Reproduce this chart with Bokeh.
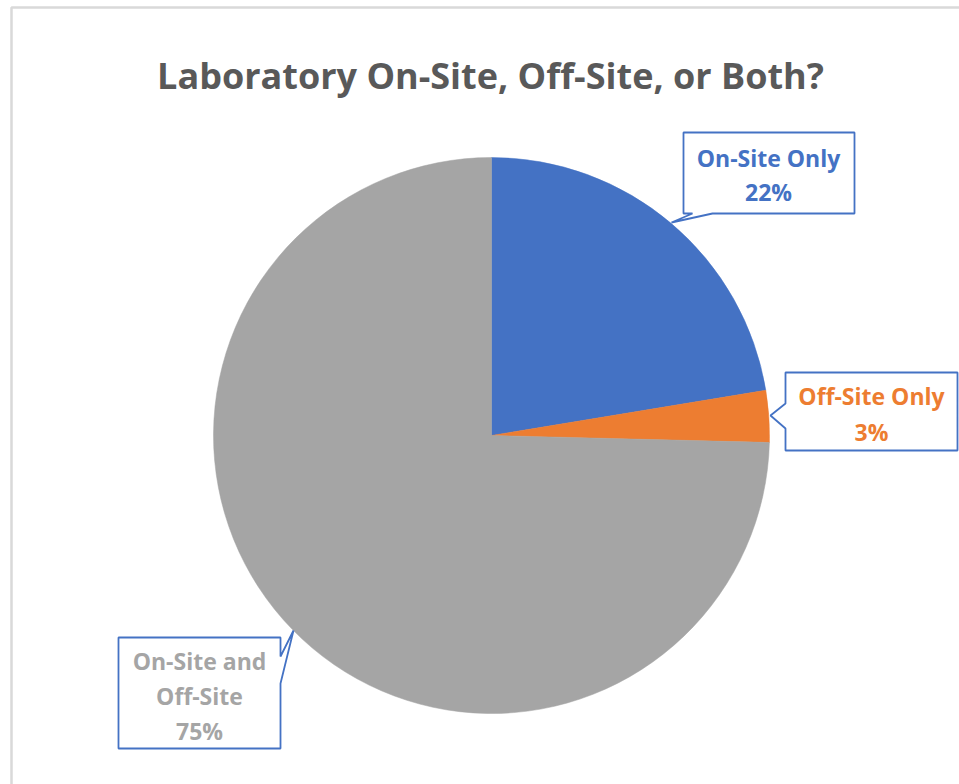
import math
from bokeh.plotting import figure
from bokeh.models import Range1d, ColumnDataSource
from bokeh.core.properties import value
from bokeh.embed import file_html
from bokeh.resources import INLINE

# ---- data ----
title_text = "Laboratory On-Site, Off-Site, or Both?"
categories = ["On-Site Only", "Off-Site Only", "On-Site and Off-Site"]
shares = [22.4, 3.0, 74.6]
label_lines = [["On-Site Only"], ["Off-Site Only"], ["On-Site and", "Off-Site"]]

# ---- style ----
slice_colors = ["#4472C4", "#ED7D31", "#A5A5A5"]
box_line = "#4472C4"
FONT = "Open Sans"

W, H = 959, 784
IMG_H = 784


def Y(y_img):
    return IMG_H - y_img


p = figure(width=W, height=H, output_backend="svg", toolbar_location=None,
           x_range=Range1d(0, W), y_range=Range1d(IMG_H - H, IMG_H),
           min_border=0, outline_line_color=None)
p.axis.visible = False
p.grid.visible = False
p.background_fill_color = "white"
p.border_fill_color = "white"

# chart area border (light gray)
p.line(x=[11, 11, 970], y=[Y(800), Y(7), Y(7)], line_color="#D9D9D9", line_width=2.5)

# title
p.text(x=[490], y=[Y(75)], text=[title_text], text_align="center", text_baseline="middle",
       text_font=value(FONT), text_font_style="bold", text_font_size="36px", text_color="#595959")

# pie
cx, cy, r = 491, Y(435), 278
total = sum(shares)
starts, ends = [], []
cum = 0.0
for s in shares:
    starts.append(math.pi / 2 - 2 * math.pi * cum / total)
    cum += s
    ends.append(math.pi / 2 - 2 * math.pi * cum / total)
src = ColumnDataSource(dict(x=[cx] * 3, y=[cy] * 3, start=starts, end=ends, color=slice_colors))
p.wedge(x="x", y="y", radius=r, radius_units="screen", start_angle="start", end_angle="end",
        direction="clock", fill_color="color", line_color="color", line_width=0.5, source=src)

# callouts: polygon with pointer, text centre and line positions
boxes = [
    dict(poly=[(683, 132), (854, 132), (854, 213), (712, 213), (671, 222), (692, 213), (683, 213)],
         cx=768, lines_y=[157, 191]),
    dict(poly=[(785, 372), (957, 372), (957, 450), (785, 450), (785, 428), (770, 415), (785, 403)],
         cx=871, lines_y=[395, 431]),
    dict(poly=[(118, 637), (280, 637), (280, 656), (293, 630), (280, 683), (280, 748), (118, 748)],
         cx=199, lines_y=[660, 695, 730]),
]

for i, b in enumerate(boxes):
    xs = [pt[0] for pt in b["poly"]]
    ys = [Y(pt[1]) for pt in b["poly"]]
    p.patch(x=xs, y=ys, fill_color="white", line_color=box_line, line_width=1.8)
    pct = f"{round(shares[i] / total * 100)}%"
    texts = label_lines[i] + [pct]
    p.text(x=[b["cx"]] * len(texts), y=[Y(v) for v in b["lines_y"]], text=texts,
           text_align="center", text_baseline="middle", text_font=value(FONT),
           text_font_style="bold", text_font_size="23px", text_color=slice_colors[i])

open("out.html", "w").write(file_html(p, INLINE))
